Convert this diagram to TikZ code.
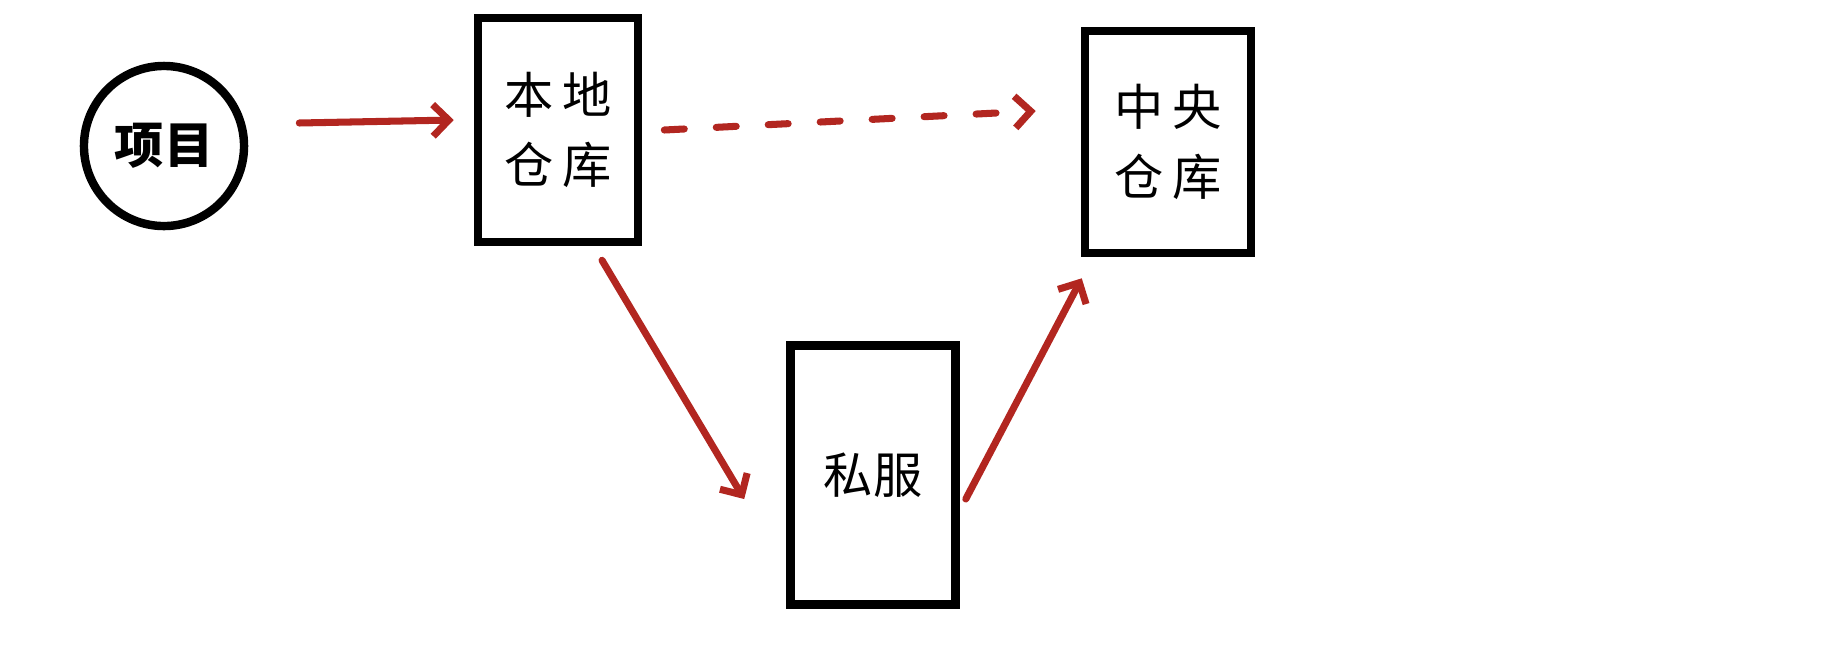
\documentclass[tikz,border=0pt]{standalone}
\usepackage{fontspec}
\usetikzlibrary{arrows.meta, positioning}
\newfontfamily\cjk{Noto Sans CJK SC}
\definecolor{arrowred}{RGB}{178,38,32}

\begin{document}
\begin{tikzpicture}[
    x=0.01cm, y=-0.01cm,
    project/.style={circle, draw=black, line width=2.4pt, minimum size=1.6cm, inner sep=0pt, font=\cjk\bfseries\fontsize{14}{20}\selectfont},
    repo/.style={rectangle, draw=black, line width=2.4pt, align=center, inner sep=0pt, font=\cjk\fontsize{14}{20}\selectfont},
    arrow/.style={-{Straight Barb[length=4.5pt, width=9pt]}, line width=2pt, arrowred, line cap=round},
]
    \useasboundingbox (0,0) rectangle (1834,654);
    \node[project] (proj) at (164,146) {项目};
    \node[repo, minimum width=1.6cm, minimum height=2.24cm] (local) at (558,130) {本\,地\\仓\,库};
    \node[repo, minimum width=1.66cm, minimum height=2.22cm] (central) at (1168,142) {中\,央\\仓\,库};
    \node[repo, minimum width=1.65cm, minimum height=2.59cm] (priv) at (873,475) {私服};

    \draw[arrow] ([xshift=0.51cm, yshift=0.23cm]proj.east) -- ([xshift=-0.2cm, yshift=0.1cm]local.west);
    \draw[arrow, dash pattern=on 0.2cm off 0.32cm] ([xshift=0.22cm]local.east) -- ([xshift=-0.45cm, yshift=0.31cm]central.west);
    \draw[arrow] ([xshift=0.44cm, yshift=-0.14cm]local.south) -- ([xshift=-0.42cm, yshift=-0.24cm]priv.west);
    \draw[arrow] ([xshift=0.06cm, yshift=-0.24cm]priv.east) -- ([xshift=0.01cm, yshift=-0.21cm]central.south west);
\end{tikzpicture}
\end{document}
